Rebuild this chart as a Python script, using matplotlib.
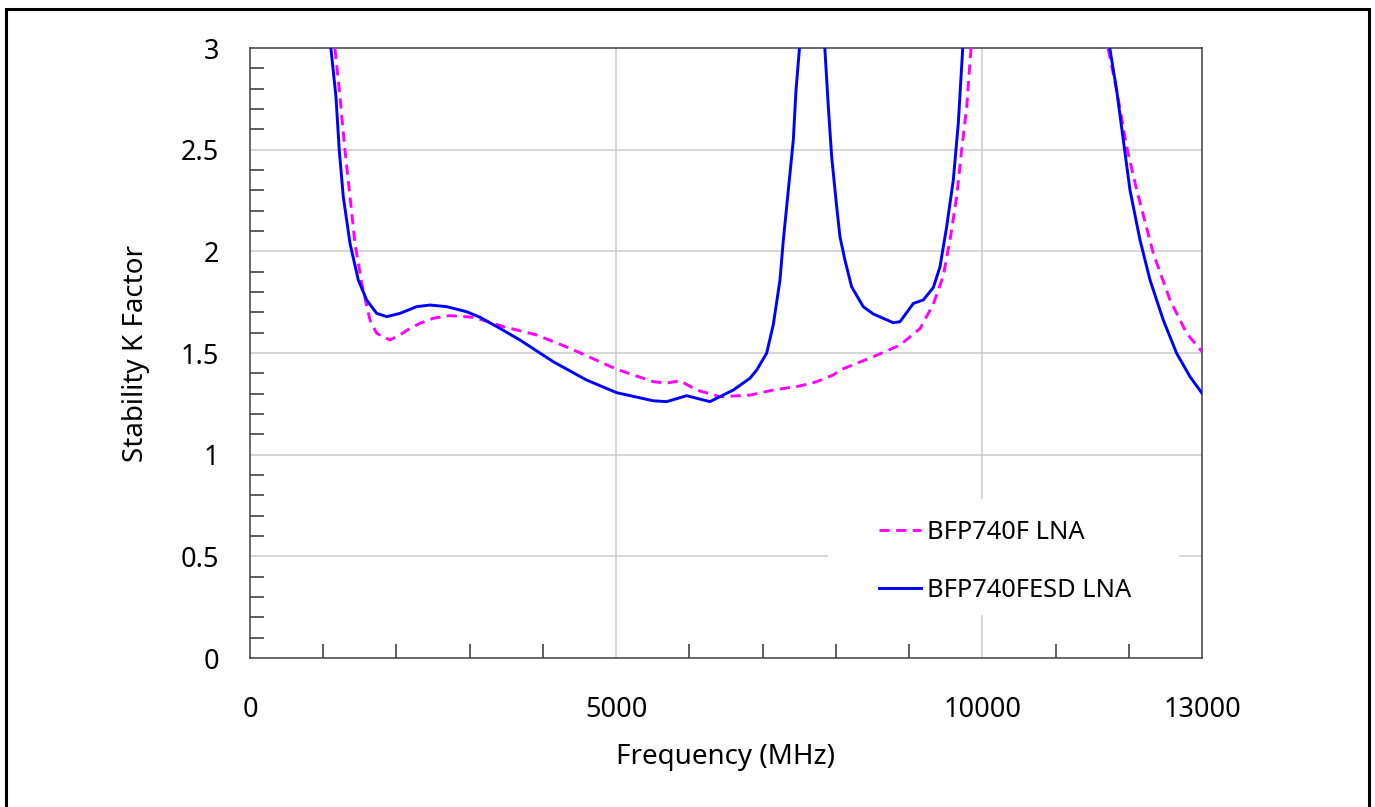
import numpy as np
import matplotlib.pyplot as plt
from matplotlib.patches import Rectangle
from matplotlib.ticker import FixedLocator

plt.rcParams['font.family'] = ['Noto Sans', 'DejaVu Sans']

# K factor vs frequency, read for both amplifier versions
freq_esd = [1000, 1106, 1174, 1219, 1274, 1366, 1479, 1593, 1730, 1867, 2048, 2276,
            2458, 2686, 2959, 3141, 3414, 3687, 4142, 4597, 5007, 5507, 5690, 5963,
            6281, 6600, 6827, 6919, 7055, 7146, 7237, 7283, 7374, 7419, 7456, 7501,
            7580, 7680, 7780, 7851, 7897, 7943, 8011, 8056, 8124, 8215, 8374, 8511,
            8785, 8876, 9058, 9194, 9331, 9422, 9513, 9604, 9672, 9731, 9800, 10700,
            11650, 11743, 11834, 11925, 12016, 12153, 12290, 12471, 12653, 12835, 13000]
k_esd = [3.6, 2.995, 2.761, 2.498, 2.269, 2.039, 1.859, 1.761, 1.695, 1.679, 1.695, 1.728,
         1.736, 1.728, 1.703, 1.676, 1.621, 1.564, 1.457, 1.367, 1.305, 1.265, 1.261, 1.290,
         1.261, 1.318, 1.376, 1.416, 1.499, 1.640, 1.859, 2.056, 2.384, 2.548, 2.793, 2.99,
         3.8, 5.0, 3.8, 2.99, 2.711, 2.465, 2.22, 2.072, 1.957, 1.826, 1.728, 1.692,
         1.649, 1.654, 1.744, 1.761, 1.822, 1.924, 2.121, 2.351, 2.63, 2.99, 3.6, 6.0,
         3.6, 2.994, 2.793, 2.548, 2.302, 2.056, 1.859, 1.662, 1.499, 1.384, 1.302]

freq_std = [1050, 1161, 1229, 1297, 1366, 1434, 1525, 1639, 1730, 1912, 2048, 2185,
            2321, 2503, 2731, 3050, 3459, 3914, 4370, 5007, 5507, 5690, 5872, 6099,
            6418, 6827, 7146, 7510, 7738, 7965, 8056, 8511, 8876, 9149, 9331, 9467,
            9559, 9650, 9718, 9787, 9845, 9950, 10800, 11620, 11720, 11834, 11971, 12108,
            12335, 12563, 12790, 13000]
k_std = [3.6, 2.995, 2.761, 2.498, 2.269, 2.039, 1.843, 1.662, 1.597, 1.564, 1.589, 1.621,
         1.646, 1.671, 1.684, 1.676, 1.630, 1.589, 1.523, 1.420, 1.359, 1.352, 1.364, 1.318,
         1.285, 1.293, 1.318, 1.338, 1.359, 1.392, 1.416, 1.482, 1.539, 1.620, 1.740, 1.88,
         2.056, 2.269, 2.498, 2.711, 2.995, 3.6, 6.0, 3.6, 2.995, 2.793, 2.515, 2.302,
         1.990, 1.761, 1.597, 1.507]

x_ticks = [0, 5000, 10000, 13000]
x_minor = [1000, 2000, 3000, 4000, 6000, 7000, 8000, 9000, 11000, 12000]
y_ticks = [0, 0.5, 1, 1.5, 2, 2.5, 3]
y_labels = ['0', '0.5', '1', '1.5', '2', '2.5', '3']

fig = plt.figure(figsize=(13.75, 8.07), dpi=100)
ax = fig.add_axes([0.1818, 0.1846, 0.6924, 0.7559])

ax.plot(freq_std, k_std, color='#ff00ff', lw=2.1, dashes=(3.5, 2.2), label='BFP740F LNA', zorder=3)
ax.plot(freq_esd, k_esd, color='#0000ff', lw=2.1, label='BFP740FESD LNA', zorder=4)

ax.set_xlim(0, 13000)
ax.set_ylim(0, 3)

ax.xaxis.set_major_locator(FixedLocator(x_ticks))
ax.xaxis.set_minor_locator(FixedLocator(x_minor))
ax.yaxis.set_major_locator(FixedLocator(y_ticks))
ax.yaxis.set_minor_locator(FixedLocator([v / 10 for v in range(31) if v % 5]))
ax.set_yticklabels(y_labels)
ax.set_xticklabels([str(v) for v in x_ticks])

ax.tick_params(which='major', length=0, labelsize=19.5, colors='black')
ax.tick_params(axis='x', which='major', pad=27)
ax.tick_params(axis='y', which='major', pad=22)
ax.tick_params(which='minor', direction='in', length=10, width=1.1, color='#333333')

for v in [5000, 10000]:
    ax.axvline(v, color='#cccccc', lw=1.1, zorder=0)
for v in [0.5, 1, 1.5, 2, 2.5]:
    ax.axhline(v, color='#cccccc', lw=1.1, zorder=0)

for s in ax.spines.values():
    s.set_color('#404040')
    s.set_linewidth(1.1)

ax.set_xlabel('Frequency (MHz)', fontsize=20, labelpad=14)
ax.set_ylabel('Stability K Factor', fontsize=20, labelpad=22)

# white patch behind the legend hides the grid there
ax.add_patch(Rectangle((0.607, 0.0705), 0.369, 0.19, transform=ax.transAxes,
                       facecolor='white', edgecolor='none', zorder=1))
ax.legend(loc='center left', bbox_to_anchor=(0.647, 0.158), frameon=False, fontsize=18.3,
          handlelength=1.65, handletextpad=0.25, labelspacing=1.3, borderpad=0)

# outer frame around the whole figure
fig.patches.append(Rectangle((0.0044, -0.02), 0.9912, 1.0088, transform=fig.transFigure,
                             fill=False, edgecolor='black', lw=2.2))

fig.savefig('out.png', dpi=100)
